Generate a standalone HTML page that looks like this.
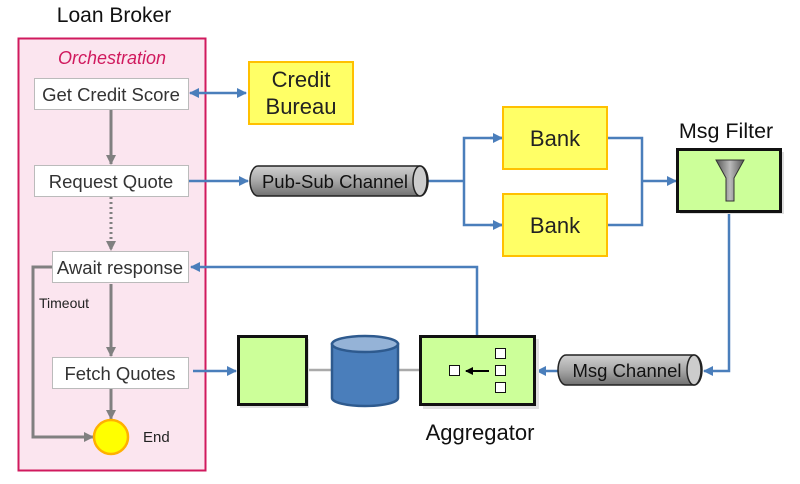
<!DOCTYPE html>
<html><head><meta charset="utf-8"><style>
body{margin:0;background:#fff;width:800px;height:479px;overflow:hidden}
svg text{font-family:"Liberation Sans",Arial,sans-serif}
</style></head><body>
<svg width="800" height="479" viewBox="0 0 800 479" xmlns="http://www.w3.org/2000/svg">
<defs>
<marker id="ab" markerWidth="10" markerHeight="10" refX="9" refY="5" orient="auto-start-reverse" markerUnits="userSpaceOnUse"><path d="M0,0 L10,5 L0,10z" fill="#4a7ebb"/></marker>
<marker id="ag" markerWidth="10" markerHeight="10" refX="9" refY="5" orient="auto" markerUnits="userSpaceOnUse"><path d="M0,0 L10,5 L0,10z" fill="#808080"/></marker>
<marker id="ak" markerWidth="8" markerHeight="8" refX="7" refY="4" orient="auto" markerUnits="userSpaceOnUse"><path d="M0,0 L8,4 L0,8z" fill="#000"/></marker>
<linearGradient id="cyl" x1="0" y1="0" x2="0" y2="1"><stop offset="0" stop-color="#d0d0d0"/><stop offset="0.5" stop-color="#a8a8a8"/><stop offset="1" stop-color="#707070"/></linearGradient>
<linearGradient id="fun" x1="0" y1="0" x2="1" y2="0"><stop offset="0" stop-color="#555"/><stop offset="0.5" stop-color="#bbb"/><stop offset="1" stop-color="#555"/></linearGradient>
</defs>
<text x="114" y="22" font-size="21" text-anchor="middle" fill="#111">Loan Broker</text>
<rect x="18.5" y="38.5" width="187" height="432" fill="#fbe5ef" stroke="#d01a5e" stroke-width="2"/>
<text x="112" y="64" font-size="18" font-style="italic" text-anchor="middle" fill="#d01a5e">Orchestration</text>
<line x1="111" y1="110" x2="111" y2="164" stroke="#808080" stroke-width="3" marker-end="url(#ag)"/>
<line x1="111" y1="197" x2="111" y2="250" stroke="#808080" stroke-width="3" stroke-dasharray="2,3" marker-end="url(#ag)"/>
<line x1="111" y1="284" x2="111" y2="356" stroke="#808080" stroke-width="3" marker-end="url(#ag)"/>
<line x1="111" y1="389" x2="111" y2="419" stroke="#808080" stroke-width="3" marker-end="url(#ag)"/>
<polyline points="52,267 33,267 33,437 93,437" fill="none" stroke="#808080" stroke-width="3" marker-end="url(#ag)"/>
<text x="39" y="308" font-size="14" fill="#222">Timeout</text>
<rect x="34.5" y="78.5" width="154" height="31" fill="#fff" stroke="#bbb"/>
<text x="111" y="101" font-size="18.5" text-anchor="middle" fill="#333">Get Credit Score</text>
<rect x="34.5" y="165.5" width="154" height="31" fill="#fff" stroke="#bbb"/>
<text x="111" y="188" font-size="18.5" text-anchor="middle" fill="#333">Request Quote</text>
<rect x="52.5" y="251.5" width="136" height="31" fill="#fff" stroke="#bbb"/>
<text x="120" y="274" font-size="18.5" text-anchor="middle" fill="#333">Await response</text>
<rect x="52.5" y="357.5" width="136" height="31" fill="#fff" stroke="#bbb"/>
<text x="120" y="380" font-size="18.5" text-anchor="middle" fill="#333">Fetch Quotes</text>
<circle cx="111" cy="437" r="17" fill="#ffff00" stroke="#ffb000" stroke-width="2.5"/>
<text x="143" y="442" font-size="15" fill="#222">End</text>
<line x1="190" y1="93" x2="246" y2="93" stroke="#4a7ebb" stroke-width="2.5" marker-end="url(#ab)" marker-start="url(#ab)"/>
<line x1="189" y1="181" x2="248" y2="181" stroke="#4a7ebb" stroke-width="2.5" marker-end="url(#ab)"/>
<polyline points="428,181 464,181" fill="none" stroke="#4a7ebb" stroke-width="2.5"/>
<polyline points="502,138 464,138 464,225 502,225" fill="none" stroke="#4a7ebb" stroke-width="2.5"/>
<line x1="490" y1="138" x2="502" y2="138" stroke="#4a7ebb" stroke-width="2.5" marker-end="url(#ab)"/>
<line x1="490" y1="225" x2="502" y2="225" stroke="#4a7ebb" stroke-width="2.5" marker-end="url(#ab)"/>
<polyline points="607,138 642,138 642,225 607,225" fill="none" stroke="#4a7ebb" stroke-width="2.5"/>
<line x1="642" y1="181" x2="676" y2="181" stroke="#4a7ebb" stroke-width="2.5" marker-end="url(#ab)"/>
<polyline points="729,212 729,371 704,371" fill="none" stroke="#4a7ebb" stroke-width="2.5" marker-end="url(#ab)"/>
<line x1="558" y1="371" x2="537" y2="371" stroke="#4a7ebb" stroke-width="2.5" marker-end="url(#ab)"/>
<polyline points="477,336 477,267 191,267" fill="none" stroke="#4a7ebb" stroke-width="2.5" marker-end="url(#ab)"/>
<line x1="193" y1="371" x2="236" y2="371" stroke="#4a7ebb" stroke-width="2.5" marker-end="url(#ab)"/>
<line x1="306" y1="370" x2="420" y2="370" stroke="#aaa" stroke-width="2.5"/>
<rect x="249" y="62" width="104" height="62" fill="#ffff66" stroke="#ffc000" stroke-width="2"/>
<text x="301" y="87" font-size="22" text-anchor="middle" fill="#222">Credit</text>
<text x="301" y="114" font-size="22" text-anchor="middle" fill="#222">Bureau</text>
<path d="M258,166 H420 A8,15 0 0 1 420,196 H258 A8,15 0 0 1 258,166z" fill="url(#cyl)" stroke="#222" stroke-width="1.5"/>
<ellipse cx="420" cy="181" rx="7" ry="15" fill="#ccc" stroke="#222" stroke-width="1.5"/>
<text x="335" y="188" font-size="18.5" text-anchor="middle" fill="#111">Pub-Sub Channel</text>
<rect x="503" y="107" width="104" height="62" fill="#ffff66" stroke="#ffc000" stroke-width="2"/>
<text x="555" y="146" font-size="22" text-anchor="middle" fill="#222">Bank</text>
<rect x="503" y="194" width="104" height="62" fill="#ffff66" stroke="#ffc000" stroke-width="2"/>
<text x="555" y="233" font-size="22" text-anchor="middle" fill="#222">Bank</text>
<text x="726" y="138" font-size="21.5" text-anchor="middle" fill="#111">Msg Filter</text>
<rect x="680" y="152" width="104" height="62" fill="#ddd"/>
<rect x="677.5" y="149.5" width="103" height="62" fill="#ccff99" stroke="#111" stroke-width="3"/>
<path d="M716,160 H744 L734,178 V201 H726 V178z" fill="url(#fun)" stroke="#333"/>
<path d="M566,355 H694 A8,15 0 0 1 694,385 H566 A8,15 0 0 1 566,355z" fill="url(#cyl)" stroke="#222" stroke-width="1.5"/>
<ellipse cx="694" cy="370" rx="7" ry="15" fill="#ccc" stroke="#222" stroke-width="1.5"/>
<text x="627" y="377" font-size="18.5" text-anchor="middle" fill="#111">Msg Channel</text>
<rect x="240" y="339" width="69" height="69" fill="#e0e0e0"/>
<rect x="238.5" y="336.5" width="68" height="68" fill="#ccff99" stroke="#111" stroke-width="3"/>
<path d="M332,344 V398 A33,8 0 0 0 398,398 V344z" fill="#4a7ebb" stroke="#2e5a8e" stroke-width="2.5"/>
<ellipse cx="365" cy="344" rx="33" ry="8" fill="#95b3d7" stroke="#2e5a8e" stroke-width="2.5"/>
<rect x="423" y="339" width="116" height="70" fill="#e0e0e0"/>
<rect x="420.5" y="336.5" width="114" height="68" fill="#ccff99" stroke="#111" stroke-width="3"/>
<rect x="449.5" y="365.5" width="10" height="10" fill="#fff" stroke="#111"/>
<rect x="495.5" y="348.5" width="10" height="10" fill="#fff" stroke="#111"/>
<rect x="495.5" y="365.5" width="10" height="10" fill="#fff" stroke="#111"/>
<rect x="495.5" y="382.5" width="10" height="10" fill="#fff" stroke="#111"/>
<line x1="489" y1="371" x2="466" y2="371" stroke="#000" stroke-width="2" marker-end="url(#ak)"/>
<text x="480" y="440" font-size="22" text-anchor="middle" fill="#111">Aggregator</text>
</svg>
</body></html>
